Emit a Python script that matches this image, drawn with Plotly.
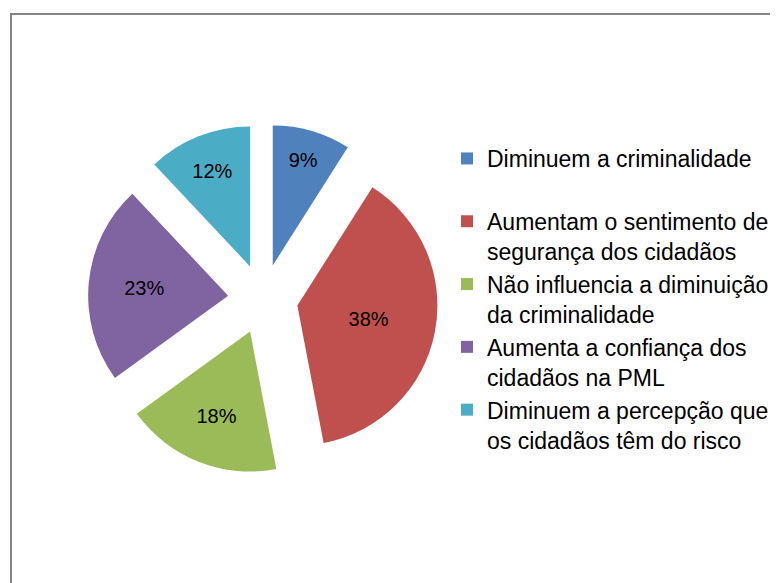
import plotly.graph_objects as go

categories = [
    "Diminuem a criminalidade<br> ",
    "Aumentam o sentimento de<br>segurança dos cidadãos",
    "Não influencia a diminuição<br>da criminalidade",
    "Aumenta a confiança dos<br>cidadãos na PML",
    "Diminuem a percepção que<br>os cidadãos têm do risco",
]
values = [9, 38, 18, 23, 12]
colors = ["#4F81BD", "#C0504D", "#9BBB59", "#8064A2", "#4BACC6"]

# the page body has an 8px margin; the figure fills the rest of the window
OFF = 8
W, H = 778 - OFF, 583 - OFF


def fx(px):
    return (px - OFF) / W


def fy(py):
    return 1 - (py - OFF) / H


fig = go.Figure(
    go.Pie(
        labels=categories,
        values=values,
        sort=False,
        direction="clockwise",
        rotation=0,
        pull=[0.25] * len(values),
        marker=dict(colors=colors, line=dict(width=0)),
        texttemplate="%{percent:.0%}",
        textposition="inside",
        insidetextorientation="horizontal",
        textfont=dict(family="Liberation Sans, Arial, sans-serif", size=20, color="black"),
        domain=dict(x=[fx(88), fx(438)], y=[fy(474), fy(124)]),
        hoverinfo="label+percent",
    )
)

fig.update_layout(
    width=W,
    height=H,
    margin=dict(l=0, r=0, t=0, b=0),
    paper_bgcolor="white",
    plot_bgcolor="white",
    font=dict(family="Liberation Sans, Arial, sans-serif", color="black"),
    showlegend=True,
    legend=dict(
        x=439 / W,
        xanchor="left",
        y=1 - 129 / H,
        yanchor="top",
        valign="top",
        font=dict(size=23, color="black"),
        bgcolor="rgba(0,0,0,0)",
        traceorder="normal",
    ),
    shapes=[
        dict(
            type="rect",
            xref="paper",
            yref="paper",
            x0=fx(11),
            x1=1.02,
            y0=-0.02,
            y1=fy(14),
            line=dict(color="#868686", width=2),
            fillcolor="rgba(0,0,0,0)",
            layer="below",
        )
    ],
)

fig.write_html("out.html")
